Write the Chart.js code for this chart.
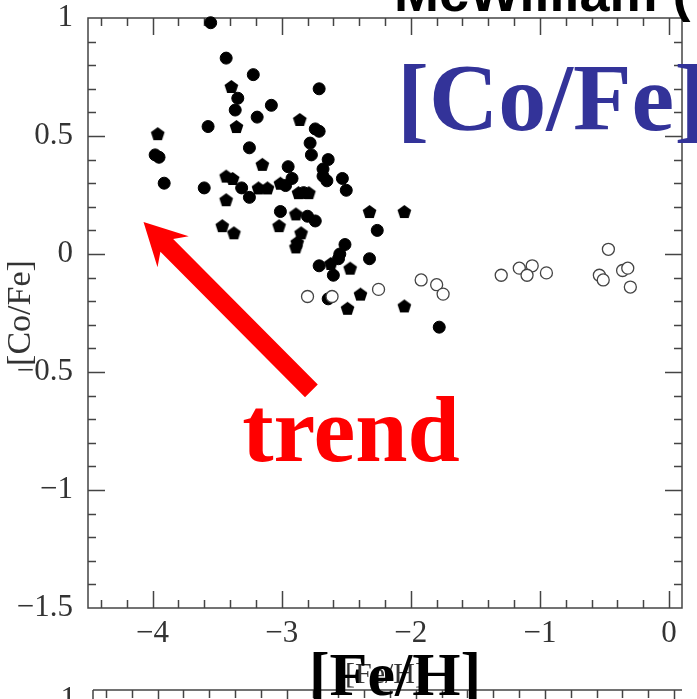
<!DOCTYPE html>
<html>
<head>
<meta charset="utf-8">
<script src="https://cdn.jsdelivr.net/npm/chart.js@4.4.0/dist/chart.umd.min.js"></script>
<style>
  html, body { margin: 0; padding: 0; background: #fff; }
</style>
</head>
<body>
<canvas id="chart" width="697" height="699"></canvas>
<script>
// [Fe/H] / [Co/Fe] values, one pair of arrays per symbol
const filledFeH = [-3.55, -3.43, -3.22, -3.34, -3.08, -3.36, -3.19, -3.57, -3.25, -3.98, -3.95,
  -3.91, -3.60, -3.31, -2.95, -2.92, -2.97, -3.25, -2.83, -2.74, -2.71, -2.71, -2.78, -2.77,
  -2.64, -2.68, -2.68, -2.65, -2.53, -2.50, -3.01, -2.80, -2.74, -2.26, -2.51, -2.55, -2.56,
  -2.71, -2.32, -2.60, -2.64, -1.78];
const filledCoFe = [0.98, 0.83, 0.76, 0.66, 0.63, 0.61, 0.58, 0.54, 0.45, 0.42, 0.41,
  0.30, 0.28, 0.28, 0.37, 0.32, 0.29, 0.24, 0.26, 0.53, 0.52, 0.70, 0.47, 0.42,
  0.40, 0.36, 0.33, 0.31, 0.32, 0.27, 0.18, 0.16, 0.14, 0.10, 0.04, 0.00, -0.02,
  -0.05, -0.02, -0.09, -0.19, -0.31];

const pentaFeH = [-3.39, -3.35, -3.96, -3.15, -3.43, -3.38, -3.01, -3.18, -3.11, -3.43, -2.87,
  -2.79, -2.86, -2.89, -3.02, -2.85, -2.32, -2.05, -3.46, -3.37, -2.88, -2.89, -2.62, -2.47,
  -2.39, -2.49, -2.05];
const pentaCoFe = [0.71, 0.54, 0.51, 0.38, 0.33, 0.32, 0.30, 0.28, 0.28, 0.23, 0.26,
  0.26, 0.57, 0.17, 0.12, 0.09, 0.18, 0.18, 0.12, 0.09, 0.05, 0.03, -0.04, -0.06,
  -0.17, -0.23, -0.22];

const openFeH = [-2.80, -2.61, -2.25, -1.92, -1.80, -1.75, -1.30, -1.16, -1.06, -1.10, -0.95,
  -0.47, -0.54, -0.51, -0.36, -0.32, -0.30];
const openCoFe = [-0.18, -0.18, -0.15, -0.11, -0.13, -0.17, -0.09, -0.06, -0.05, -0.09, -0.08,
  0.02, -0.09, -0.11, -0.07, -0.06, -0.14];

const xTickValues = [-4, -3, -2, -1, 0];
const xTickLabels = ['\u22124', '\u22123', '\u22122', '\u22121', '0'];
const yTickValues = [1, 0.5, 0, -0.5, -1, -1.5];
const yTickLabels = ['1', '0.5', '0', '\u22120.5', '\u22121', '\u22121.5'];

// arrow annotation, in data units: tail -> tip
const arrowFrom = [-2.77, -0.58];
const arrowTo = [-4.07, 0.136];

const axisFont = { family: '"Liberation Serif", serif', size: 31 };
const axisColor = '#333';

function toPoints(xs, ys) {
  return xs.map((x, i) => ({ x: x, y: ys[i] }));
}

function makePentagon(r) {
  const size = Math.ceil(r * 2 + 2);
  const c = document.createElement('canvas');
  c.width = size;
  c.height = size;
  const g = c.getContext('2d');
  g.fillStyle = '#000';
  g.beginPath();
  for (let i = 0; i < 5; i++) {
    const a = -Math.PI / 2 + i * 2 * Math.PI / 5;
    const px = size / 2 + r * Math.cos(a);
    const py = size / 2 + r * Math.sin(a) + r * 0.1;
    if (i === 0) g.moveTo(px, py); else g.lineTo(px, py);
  }
  g.closePath();
  g.fill();
  return c;
}

// frame with inward ticks on all four sides
const framePlugin = {
  id: 'frame',
  beforeDatasetsDraw(chart) {
    const {ctx, chartArea: a, scales: {x, y}} = chart;
    ctx.save();
    ctx.strokeStyle = '#444';
    ctx.lineWidth = 1.5;
    ctx.strokeRect(a.left, a.top, a.right - a.left, a.bottom - a.top);
    ctx.beginPath();
    for (let i = -22; i <= 0; i++) {
      const px = Math.round(x.getPixelForValue(i / 5)) + 0.5;
      const len = i % 5 === 0 ? 17 : 8;
      ctx.moveTo(px, a.top);
      ctx.lineTo(px, a.top + len);
      ctx.moveTo(px, a.bottom);
      ctx.lineTo(px, a.bottom - len);
    }
    for (let i = -14; i <= 9; i++) {
      const py = Math.round(y.getPixelForValue(i / 10)) + 0.5;
      const len = i % 5 === 0 ? 17 : 8;
      ctx.moveTo(a.left, py);
      ctx.lineTo(a.left + len, py);
      ctx.moveTo(a.right, py);
      ctx.lineTo(a.right - len, py);
    }
    ctx.stroke();

    // top edge of the next panel peeking in at the bottom
    const top2 = 690;
    ctx.beginPath();
    ctx.moveTo(a.left + 5, top2);
    ctx.lineTo(a.right, top2);
    for (let i = -22; i <= 0; i++) {
      const px = Math.round(x.getPixelForValue(i / 5)) + 5.5;
      ctx.moveTo(px, top2);
      ctx.lineTo(px, top2 + (i % 5 === 0 ? 17 : 8));
    }
    ctx.moveTo(a.left + 5, top2);
    ctx.lineTo(a.left + 5, 699);
    ctx.stroke();
    ctx.fillStyle = axisColor;
    ctx.font = '31px "Liberation Serif"';
    ctx.textAlign = 'right';
    ctx.textBaseline = 'middle';
    ctx.fillText('1', 76, 700);
    ctx.restore();
  }
};

// slide overlay: arrow and big labels
const overlayPlugin = {
  id: 'overlay',
  afterDraw(chart) {
    const {ctx, scales: {x, y}} = chart;
    const tx = x.getPixelForValue(arrowTo[0]), ty = y.getPixelForValue(arrowTo[1]);
    const fx = x.getPixelForValue(arrowFrom[0]), fy = y.getPixelForValue(arrowFrom[1]);
    const len = Math.hypot(tx - fx, ty - fy);
    const ang = Math.atan2(ty - fy, tx - fx);
    ctx.save();
    ctx.translate(fx, fy);
    ctx.rotate(ang);
    ctx.fillStyle = '#ff0000';
    ctx.beginPath();
    ctx.moveTo(0, -9);
    ctx.lineTo(len - 33, -9);
    ctx.lineTo(len - 42, -22);
    ctx.lineTo(len, 0);
    ctx.lineTo(len - 42, 22);
    ctx.lineTo(len - 33, 9);
    ctx.lineTo(0, 9);
    ctx.closePath();
    ctx.fill();
    ctx.restore();

    ctx.save();
    ctx.textBaseline = 'alphabetic';
    ctx.textAlign = 'left';
    ctx.fillStyle = '#000';
    ctx.font = 'bold 54px "Liberation Sans"';
    ctx.fillText('McWilliam (', 394, 11);
    ctx.fillStyle = '#333399';
    ctx.font = 'bold 96px "Liberation Serif"';
    ctx.fillText('[Co/Fe]', 397, 130);
    ctx.textAlign = 'center';
    ctx.fillStyle = '#ff0000';
    ctx.font = 'bold 94px "Liberation Serif"';
    ctx.fillText('trend', 351, 461);
    ctx.fillStyle = '#000';
    ctx.font = 'bold 62px "Liberation Serif"';
    ctx.fillText('[Fe/H]', 395, 695);
    ctx.restore();
  }
};

new Chart(document.getElementById('chart'), {
  type: 'scatter',
  data: {
    datasets: [
      {
        label: 'open',
        data: toPoints(openFeH, openCoFe),
        pointStyle: 'circle',
        pointRadius: 6,
        backgroundColor: '#fff',
        borderColor: '#444',
        borderWidth: 1.3,
        clip: false
      },
      {
        label: 'filled',
        data: toPoints(filledFeH, filledCoFe),
        pointStyle: 'circle',
        pointRadius: 6,
        backgroundColor: '#000',
        borderColor: '#000',
        borderWidth: 1,
        clip: false
      },
      {
        label: 'pentagon',
        data: toPoints(pentaFeH, pentaCoFe),
        pointStyle: makePentagon(7.2),
        pointRadius: 7,
        clip: false
      }
    ]
  },
  options: {
    responsive: false,
    animation: false,
    devicePixelRatio: 1,
    events: [],
    layout: { padding: { top: 18, right: 15, left: 0, bottom: 0 } },
    plugins: { legend: { display: false }, tooltip: { enabled: false } },
    scales: {
      x: {
        type: 'linear',
        min: -4.5,
        max: 0.1,
        afterFit: s => { s.height = 91; s.paddingLeft = 0; s.paddingRight = 0; },
        afterBuildTicks: s => { s.ticks = xTickValues.map(v => ({ value: v })); },
        grid: { display: false, drawTicks: false },
        border: { display: false },
        ticks: {
          padding: 7,
          autoSkip: false,
          maxRotation: 0,
          font: axisFont,
          color: axisColor,
          callback: (v, i) => xTickLabels[i]
        },
        title: {
          display: true,
          text: '[Fe/H]',
          font: { family: '"Liberation Serif", serif', size: 30 },
          color: axisColor,
          padding: { top: 0, bottom: 6 }
        }
      },
      y: {
        type: 'linear',
        min: -1.5,
        max: 1,
        afterFit: s => { s.width = 88; s.paddingTop = 0; s.paddingBottom = 0; },
        afterBuildTicks: s => { s.ticks = yTickValues.map(v => ({ value: v })); },
        grid: { display: false, drawTicks: false },
        border: { display: false },
        ticks: {
          padding: 15,
          autoSkip: false,
          font: axisFont,
          color: axisColor,
          callback: (v, i) => yTickLabels[i]
        },
        title: {
          display: true,
          text: '[Co/Fe]',
          font: { family: '"Liberation Serif", serif', size: 34 },
          color: axisColor,
          padding: { top: 1, bottom: 0 }
        }
      }
    }
  },
  plugins: [framePlugin, overlayPlugin]
});
</script>
</body>
</html>
